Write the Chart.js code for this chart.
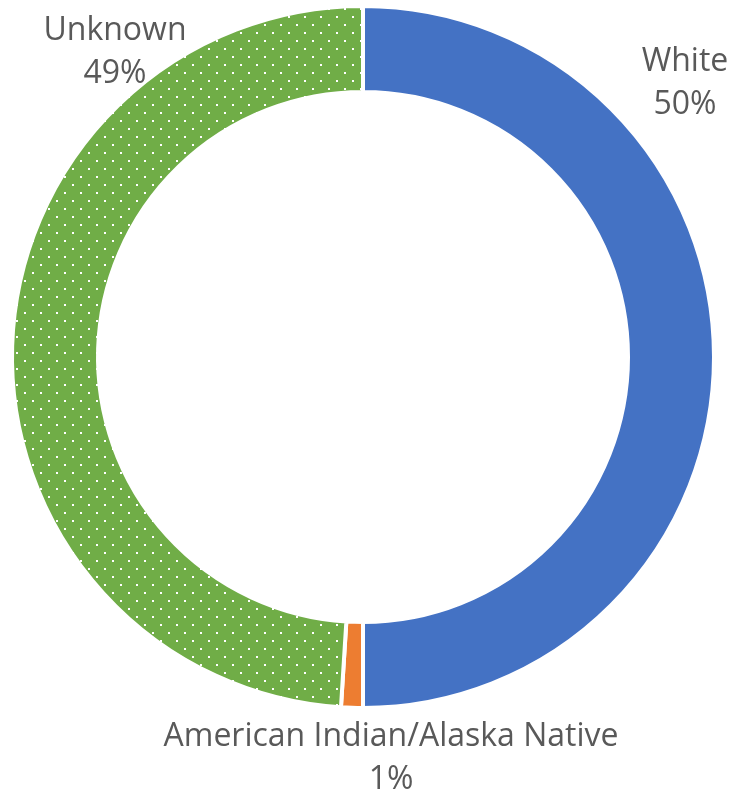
<!DOCTYPE html>
<html lang="en">
<head>
    <meta charset="UTF-8">
    <title>Race breakdown</title>
    <script src="https://cdn.jsdelivr.net/npm/chart.js"></script>
    <style>
        body { margin: 0; padding: 0; background: #fff; }
        #wrap { width: 746px; height: 796px; }
    </style>
</head>
<body>
<div id="wrap"><canvas id="chart" width="746" height="796"></canvas></div>
<script>
    const categories = ["White", "American Indian/Alaska Native", "Unknown"];
    const shares = [50, 1, 49];
    const sliceColors = ["#4472C4", "#ED7D31", "#70AD47"];

    // label anchor per slice (centre of the two text lines)
    const labelSpots = [
        { x: 685, y: 84 },
        { x: 391, y: 759 },
        { x: 115, y: 53 }
    ];

    // dotted fill for the "Unknown" slice
    function dotPattern(base) {
        const tile = document.createElement("canvas");
        tile.width = 16;
        tile.height = 16;
        const t = tile.getContext("2d");
        t.fillStyle = base;
        t.fillRect(0, 0, 16, 16);
        t.fillStyle = "#ffffff";
        t.fillRect(0, 0, 2, 2);
        t.fillRect(8, 8, 2, 2);
        return t.createPattern(tile, "repeat");
    }

    const ctx = document.getElementById("chart").getContext("2d");
    const fills = sliceColors.map((c, i) => i === 2 ? dotPattern(c) : c);

    const labelPlugin = {
        id: "sliceLabels",
        afterDatasetsDraw(chart) {
            const c = chart.ctx;
            c.save();
            c.fillStyle = "#595959";
            c.font = "32px 'Open Sans', sans-serif";
            c.textAlign = "center";
            c.textBaseline = "middle";
            categories.forEach((name, i) => {
                const spot = labelSpots[i];
                c.fillText(name, spot.x, spot.y - 22);
                c.fillText(shares[i] + "%", spot.x, spot.y + 21);
            });
            c.restore();
        }
    };

    new Chart(ctx, {
        type: "doughnut",
        data: {
            labels: categories,
            datasets: [{
                data: shares,
                backgroundColor: fills,
                borderColor: "#ffffff",
                borderWidth: 4
            }]
        },
        options: {
            responsive: false,
            animation: false,
            cutout: "75.5%",
            layout: { padding: { left: 10, right: 30, top: 4, bottom: 86 } },
            plugins: {
                legend: { display: false },
                tooltip: { enabled: false }
            }
        },
        plugins: [labelPlugin]
    });
</script>
</body>
</html>
